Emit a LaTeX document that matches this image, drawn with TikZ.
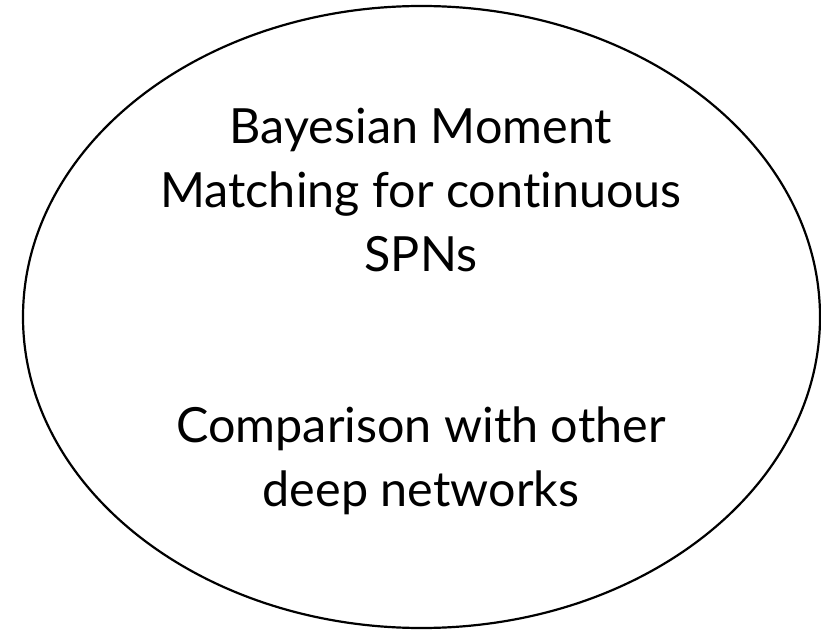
\documentclass[tikz,border=0pt]{standalone}
\usepackage{fontspec}
\setmainfont[Ligatures={NoCommon}]{Lato}
\begin{document}
\begin{tikzpicture}[x=1pt,y=1pt,
  outline/.style={draw=black,line width=2.2pt},
  label/.style={align=center,anchor=base,inner sep=0pt,
    font=\fontsize{48.5}{64}\selectfont}]
\useasboundingbox (0,0) rectangle (821,630);
\draw[outline] (421.5,313) ellipse [x radius=398.5, y radius=311];
% the base anchor of a multi-line label sits on its last line
\node[label] (topic) at (421,359) {Bayesian Moment\\Matching for continuous\\SPNs};
\node[label] (compare) at (421,124) {Comparison with other\\deep networks};
\end{tikzpicture}
\end{document}
